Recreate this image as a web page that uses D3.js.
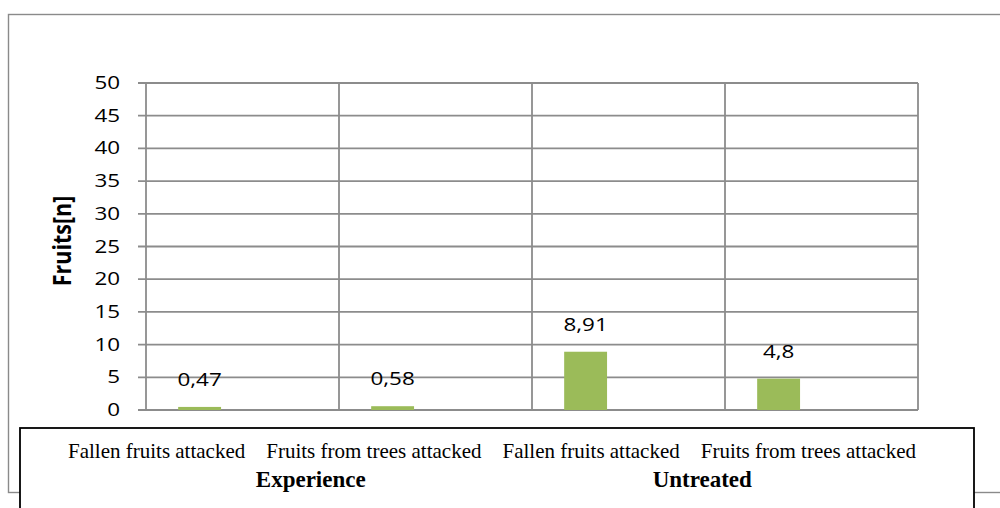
<!DOCTYPE html>
<html>
<head>
<meta charset="utf-8">
<script src="https://cdn.jsdelivr.net/npm/d3@7/dist/d3.min.js"></script>
<style>
  body { margin: 0; background: #fff; }
  svg { display: block; }
  .grid line { stroke: #8c8c8c; stroke-width: 1.8; }
</style>
</head>
<body>
<script>
// chart values
const categories = ['Fallen fruits attacked (Experience)', 'Fruits from trees attacked (Experience)',
    'Fallen fruits attacked (Untreated)', 'Fruits from trees attacked (Untreated)'];
const values = [0.47, 0.58, 8.91, 4.8];
const valueLabels = ['0,47', '0,58', '8,91', '4,8'];
const yTicks = [0, 5, 10, 15, 20, 25, 30, 35, 40, 45, 50];
const rowLabels = ['Fallen fruits attacked', 'Fruits from trees attacked',
    'Fallen fruits attacked', 'Fruits from trees attacked'];
const groupLabels = ['Experience', 'Untreated'];
const yTitle = 'Fruits[n]';

const width = 1000, height = 508;
const plot = {left: 146, right: 918, top: 83, bottom: 410};
const stretch = 1.18; // the original picture is stretched sideways

const svg = d3.select('body').append('svg')
    .attr('width', width)
    .attr('height', height);

// outer chart frame
svg.append('rect')
    .attr('x', 8.5).attr('y', 14.5)
    .attr('width', 1000).attr('height', 478)
    .attr('fill', 'none')
    .attr('stroke', '#8a8a8a')
    .attr('stroke-width', 1.4);

const x = d3.scaleBand()
    .domain(categories)
    .range([plot.left, plot.right])
    .paddingInner(0).paddingOuter(0);

const y = d3.scaleLinear()
    .domain([0, 50])
    .range([plot.bottom, plot.top]);

// horizontal grid + y ticks
const grid = svg.append('g').attr('class', 'grid');
grid.selectAll('line.h')
    .data(yTicks)
    .join('line')
    .attr('class', 'h')
    .attr('x1', plot.left - 8)
    .attr('x2', plot.right)
    .attr('y1', d => y(d))
    .attr('y2', d => y(d));

// vertical lines at category boundaries
const edges = categories.map(c => x(c)).concat([plot.right]);
grid.selectAll('line.v')
    .data(edges)
    .join('line')
    .attr('class', 'v')
    .attr('x1', d => d)
    .attr('x2', d => d)
    .attr('y1', plot.top)
    .attr('y2', plot.bottom);

// tick labels
svg.append('g')
    .selectAll('text')
    .data(yTicks)
    .join('text')
    .attr('transform', d => 'translate(' + (plot.left - 26) + ',' + (y(d) + 6) + ') scale(' + stretch + ',1)')
    .attr('text-anchor', 'end')
    .style('font-family', '"Open Sans", sans-serif')
    .style('font-size', '19px')
    .attr('fill', '#000')
    .text(d => d);

// axis title
svg.append('text')
    .attr('transform', 'translate(62,241) scale(' + stretch + ',1) rotate(-90)')
    .attr('text-anchor', 'middle')
    .attr('dy', '0.36em')
    .style('font-family', '"Open Sans", sans-serif')
    .style('font-size', '21.5px')
    .style('font-weight', 'bold')
    .text(yTitle);

// bars sit in the first of three slots of each category
const slot = d3.scaleBand()
    .domain(['a', 'b', 'c'])
    .range([0, x.bandwidth()])
    .paddingInner(0)
    .paddingOuter(0.75);

svg.append('g')
    .selectAll('rect')
    .data(values)
    .join('rect')
    .attr('x', (d, i) => x(categories[i]) + slot('a'))
    .attr('width', slot.bandwidth())
    .attr('y', d => y(d))
    .attr('height', d => y(0) - y(d))
    .attr('fill', '#9bbb59');

// value labels
svg.append('g')
    .selectAll('text')
    .data(values)
    .join('text')
    .attr('transform', (d, i) => 'translate(' + (x(categories[i]) + slot('a') + slot.bandwidth() / 2) + ',' + (y(d) - 21) + ') scale(' + stretch + ',1)')
    .attr('text-anchor', 'middle')
    .style('font-family', '"Open Sans", sans-serif')
    .style('font-size', '19px')
    .text((d, i) => valueLabels[i]);

// category table below the chart
svg.append('rect')
    .attr('x', 20).attr('y', 428)
    .attr('width', 954).attr('height', 120)
    .attr('fill', '#fff')
    .attr('stroke', '#000')
    .attr('stroke-width', 1.8);

const rowX = d3.scaleBand()
    .domain(d3.range(rowLabels.length))
    .range([48, 917]);

svg.append('g')
    .selectAll('text')
    .data(rowLabels)
    .join('text')
    .attr('x', (d, i) => rowX(i) + rowX.bandwidth() / 2)
    .attr('y', 458)
    .attr('text-anchor', 'middle')
    .style('font-family', '"Liberation Serif", "Times New Roman", serif')
    .style('font-size', '21px')
    .text(d => d);

const groupX = d3.scaleBand()
    .domain(groupLabels)
    .range([115, 898]);

svg.append('g')
    .selectAll('text')
    .data(groupLabels)
    .join('text')
    .attr('x', d => groupX(d) + groupX.bandwidth() / 2)
    .attr('y', 487)
    .attr('text-anchor', 'middle')
    .style('font-family', '"Liberation Serif", "Times New Roman", serif')
    .style('font-size', '23px')
    .style('font-weight', 'bold')
    .text(d => d);
</script>
</body>
</html>
